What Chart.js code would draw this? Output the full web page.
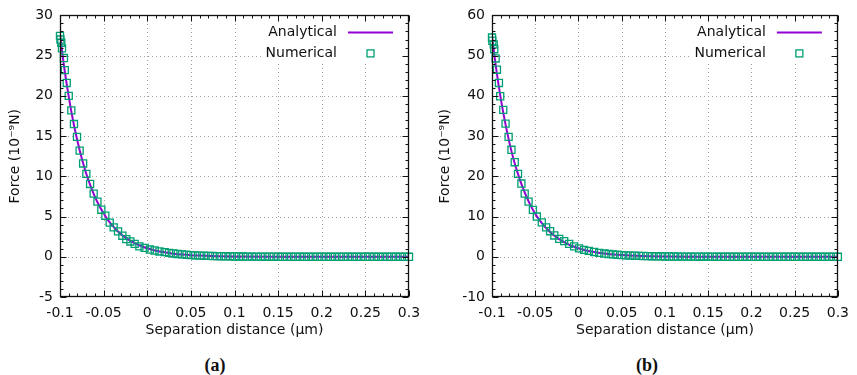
<!DOCTYPE html>
<html>
<head>
<meta charset="utf-8">
<script src="https://cdn.jsdelivr.net/npm/chart.js@4.4.0/dist/chart.umd.min.js"></script>
<style>
  html, body { margin: 0; padding: 0; background: #fff; }
  #page { position: relative; width: 857px; height: 375px; overflow: hidden; }
  .panel { position: absolute; top: 0; }
  .cap { position: absolute; top: 355px; font: bold 18px 'Liberation Serif', serif; color: #111; text-align: center; width: 60px; }
</style>
</head>
<body>
<div id="page">
  <canvas id="chartA" class="panel" style="left:0" width="430" height="345"></canvas>
  <canvas id="chartB" class="panel" style="left:430px" width="427" height="345"></canvas>
  <div class="cap" style="left:185px">(a)</div>
  <div class="cap" style="left:617px">(b)</div>
</div>
<script>
// analytical curve, sampled at these separations (um)
const anaX = [-0.1, -0.095, -0.09, -0.085, -0.08, -0.075, -0.07, -0.065, -0.06, -0.055, -0.05,
  -0.045, -0.04, -0.035, -0.03, -0.025, -0.02, -0.015, -0.01, -0.005, 0,
  0.01, 0.02, 0.03, 0.04, 0.05, 0.06, 0.08, 0.1, 0.15, 0.2, 0.25, 0.3];
const anaA = [27.6, 23.4, 19.9, 16.9, 14.4, 12.2, 10.35, 8.8, 7.45, 6.35, 5.4,
  4.55, 3.9, 3.3, 2.8, 2.38, 2.02, 1.72, 1.46, 1.24, 1.05,
  0.76, 0.55, 0.39, 0.28, 0.2, 0.15, 0.08, 0.04, 0.01, 0, 0, 0];
const anaB = [54.8, 46.5, 39.5, 33.6, 28.5, 24.2, 20.6, 17.5, 14.9, 12.6, 10.7,
  9.1, 7.75, 6.6, 5.6, 4.75, 4.05, 3.45, 2.9, 2.5, 2.1,
  1.52, 1.1, 0.79, 0.57, 0.41, 0.3, 0.16, 0.08, 0.02, 0, 0, 0];

// numerical points, panel (a)
const numXa = [-0.1, -0.0995, -0.0985, -0.0977, -0.0955, -0.0945, -0.0923, -0.09, -0.087, -0.084,
  -0.0805, -0.0775, -0.0735, -0.0698, -0.0655, -0.0614, -0.0571, -0.0526, -0.048, -0.043,
  -0.0385, -0.0335, -0.0285, -0.024, -0.0193, -0.0144, -0.009, -0.003, 0.003, 0.0085,
  0.014, 0.02, 0.025, 0.03, 0.035, 0.04, 0.045, 0.05, 0.055, 0.06,
  0.065, 0.07, 0.075, 0.08, 0.085, 0.09, 0.095, 0.1, 0.105, 0.11,
  0.115, 0.12, 0.125, 0.13, 0.135, 0.14, 0.145, 0.15, 0.155, 0.16,
  0.165, 0.17, 0.175, 0.18, 0.185, 0.19, 0.195, 0.2, 0.205, 0.21,
  0.215, 0.22, 0.225, 0.23, 0.235, 0.24, 0.245, 0.25, 0.255, 0.26,
  0.265, 0.27, 0.275, 0.28, 0.285, 0.29, 0.295, 0.3];
const numYa = [27.45, 27.0, 26.6, 25.9, 24.7, 23.2, 21.6, 20.0, 18.2, 16.5,
  14.9, 13.2, 11.6, 10.3, 9.05, 7.85, 6.85, 5.85, 5.1, 4.25,
  3.65, 3.15, 2.62, 2.2, 1.9, 1.6, 1.3, 1.1, 0.9, 0.78,
  0.66, 0.58, 0.48, 0.41, 0.35, 0.3, 0.25, 0.21, 0.18, 0.15,
  0.13, 0.11, 0.09, 0.08, 0.07, 0.06, 0.05, 0.04, 0.035, 0.03,
  0.025, 0.02, 0.02, 0.015, 0.01, 0.01, 0.01, 0, 0, 0,
  0, 0, 0, 0, 0, 0, 0, 0, 0, 0,
  0, 0, 0, 0, 0, 0, 0, 0, 0, 0,
  0, 0, 0, 0, 0, 0, 0, 0];

// numerical points, panel (b)
const numXb = [-0.1, -0.0996, -0.098, -0.0974, -0.0958, -0.0943, -0.092, -0.0905, -0.087, -0.0843,
  -0.0808, -0.0775, -0.0737, -0.0699, -0.066, -0.0622, -0.0577, -0.0527, -0.0481, -0.0424,
  -0.0374, -0.0328, -0.0279, -0.0222, -0.0165, -0.0108, -0.005, 0.0007, 0.0064, 0.012,
  0.018, 0.024, 0.03, 0.035, 0.04, 0.045, 0.05, 0.055, 0.06, 0.065,
  0.07, 0.075, 0.08, 0.085, 0.09, 0.095, 0.1, 0.105, 0.11, 0.115,
  0.12, 0.125, 0.13, 0.135, 0.14, 0.145, 0.15, 0.155, 0.16, 0.165,
  0.17, 0.175, 0.18, 0.185, 0.19, 0.195, 0.2, 0.205, 0.21, 0.215,
  0.22, 0.225, 0.23, 0.235, 0.24, 0.245, 0.25, 0.255, 0.26, 0.265,
  0.27, 0.275, 0.28, 0.285, 0.29, 0.295, 0.3];
const numYb = [54.5, 53.7, 52.8, 51.6, 49.3, 46.5, 43.2, 39.9, 36.5, 33.1,
  29.8, 26.6, 23.5, 20.6, 18.2, 15.7, 13.7, 11.65, 10.0, 8.55,
  7.3, 6.35, 5.3, 4.45, 3.9, 3.2, 2.6, 2.1, 1.7, 1.45,
  1.2, 0.98, 0.8, 0.68, 0.58, 0.49, 0.42, 0.36, 0.3, 0.26,
  0.22, 0.19, 0.16, 0.14, 0.12, 0.1, 0.08, 0.07, 0.06, 0.05,
  0.04, 0.035, 0.03, 0.025, 0.02, 0.015, 0.01, 0.01, 0, 0,
  0, 0, 0, 0, 0, 0, 0, 0, 0, 0,
  0, 0, 0, 0, 0, 0, 0, 0, 0, 0,
  0, 0, 0, 0, 0, 0, 0];

const legendLabels = ['Analytical', 'Numerical'];
const xTitle = 'Separation distance (\u03bcm)';
const yTitle = 'Force (10\u207b\u2079N)';

const FONT = "'DejaVu Sans', sans-serif";
const TXT = '#111';
const LINE_COL = '#9400d3';
const PT_COL = '#009e73';

const pts = (xs, ys) => xs.map((x, i) => ({ x: x, y: ys[i] }));

// gnuplot-like frame: dotted grid, opaque key, box border with inward major/minor tics
const frame = {
  id: 'frame',
  beforeDatasetsDraw(chart, args, o) {
    const { ctx, chartArea: a, scales: { x, y } } = chart;
    ctx.save();
    ctx.strokeStyle = '#a0a0a0';
    ctx.lineWidth = 1;
    ctx.setLineDash([1, 3]);
    x.ticks.forEach(t => {
      const px = Math.round(x.getPixelForValue(t.value)) + 0.5;
      if (px < a.left + 2 || px > a.right - 2) return;
      ctx.beginPath(); ctx.moveTo(px, a.bottom); ctx.lineTo(px, a.top); ctx.stroke();
    });
    y.ticks.forEach(t => {
      const py = Math.round(y.getPixelForValue(t.value)) + 0.5;
      if (py < a.top + 2 || py > a.bottom - 2) return;
      ctx.beginPath(); ctx.moveTo(a.left, py); ctx.lineTo(a.right, py); ctx.stroke();
    });
    ctx.setLineDash([]);
    // opaque key background
    ctx.fillStyle = '#fff';
    ctx.fillRect(a.right - o.keyW, a.top + 1, o.keyW - 8, o.keyH);
    ctx.restore();
  },
  afterDatasetsDraw(chart, args, o) {
    const { ctx, chartArea: a, scales: { x, y } } = chart;
    ctx.save();
    ctx.strokeStyle = '#111';
    ctx.lineWidth = 1;
    const L = Math.round(a.left) + 0.5, R = Math.round(a.right) - 0.5;
    const T = Math.round(a.top) + 0.5, B = Math.round(a.bottom) - 0.5;
    ctx.beginPath();
    const nx = Math.round((x.max - x.min) / o.xMinor);
    for (let i = 0; i <= nx; i++) {
      const px = Math.round(x.getPixelForValue(x.min + i * o.xMinor)) + 0.5;
      const len = i % 5 === 0 ? 6 : 3;
      ctx.moveTo(px, B); ctx.lineTo(px, B - len);
      ctx.moveTo(px, T); ctx.lineTo(px, T + len);
    }
    const ny = Math.round((y.max - y.min) / o.yMinor);
    for (let i = 0; i <= ny; i++) {
      const py = Math.round(y.getPixelForValue(y.min + i * o.yMinor)) + 0.5;
      const len = i % 5 === 0 ? 6 : 3;
      ctx.moveTo(L, py); ctx.lineTo(L + len, py);
      ctx.moveTo(R, py); ctx.lineTo(R - len, py);
    }
    ctx.stroke();
    ctx.lineWidth = 1.3;
    ctx.strokeRect(L, T, R - L, B - T);

    // key
    const tx = a.right - o.keyTextR;
    const y1 = a.top + 17, y2 = a.top + 38;
    ctx.font = '14px ' + FONT;
    ctx.fillStyle = TXT;
    ctx.textAlign = 'right';
    ctx.textBaseline = 'middle';
    ctx.fillText(legendLabels[0], tx, y1);
    ctx.fillText(legendLabels[1], tx, y2);
    ctx.strokeStyle = LINE_COL;
    ctx.lineWidth = 2;
    ctx.beginPath(); ctx.moveTo(tx + 11, y1); ctx.lineTo(tx + 56, y1); ctx.stroke();
    ctx.strokeStyle = PT_COL;
    ctx.lineWidth = 1.3;
    ctx.strokeRect(tx + 30, y2 - 3.5, 7, 7);
    ctx.restore();
  }
};

function makePanel(id, ana, nx, ny, ymin, ymax, ystep, yw, padR) {
  return new Chart(document.getElementById(id), {
    type: 'scatter',
    data: {
      datasets: [
        {
          label: legendLabels[1],
          data: pts(nx, ny),
          showLine: false,
          pointStyle: 'rect',
          pointRadius: 5,
          pointBorderWidth: 1.3,
          pointBorderColor: PT_COL,
          pointBackgroundColor: 'rgba(0,0,0,0)',
          clip: false,
          order: 0
        },
        {
          label: legendLabels[0],
          data: pts(anaX, ana),
          showLine: true,
          borderColor: LINE_COL,
          borderWidth: 2,
          pointRadius: 0,
          cubicInterpolationMode: 'monotone',
          order: 1
        }
      ]
    },
    options: {
      responsive: false,
      animation: false,
      devicePixelRatio: 1,
      layout: { padding: { top: 11, right: padR, left: 0, bottom: 0 } },
      plugins: {
        legend: { display: false },
        tooltip: { enabled: false },
        frame: { xMinor: 0.01, yMinor: ystep / 5, keyW: 148, keyH: 47, keyTextR: 72 }
      },
      scales: {
        x: {
          type: 'linear',
          min: -0.1,
          max: 0.3,
          grid: { display: false, drawTicks: false },
          border: { display: false },
          ticks: {
            stepSize: 0.05,
            padding: 8,
            autoSkip: false,
            maxRotation: 0,
            color: TXT,
            font: { family: FONT, size: 14 },
            callback: v => String(Math.round(v * 100) / 100)
          },
          title: { display: true, text: xTitle, color: TXT, font: { family: FONT, size: 14 }, padding: { top: 0, bottom: 6 } },
          afterFit: s => { s.height = 48; }
        },
        y: {
          type: 'linear',
          min: ymin,
          max: ymax,
          grid: { display: false, drawTicks: false },
          border: { display: false },
          ticks: {
            stepSize: ystep,
            padding: 7,
            color: TXT,
            font: { family: FONT, size: 14 },
            callback: v => String(v)
          },
          title: { display: true, text: yTitle, color: TXT, font: { family: FONT, size: 14 }, padding: { top: 7, bottom: 0 } },
          afterFit: s => { s.width = yw; }
        }
      }
    },
    plugins: [frame]
  });
}

makePanel('chartA', anaA, numXa, numYa, -5, 30, 5, 60, 21);
makePanel('chartB', anaB, numXb, numYb, -10, 60, 10, 62, 15);
</script>
</body>
</html>
